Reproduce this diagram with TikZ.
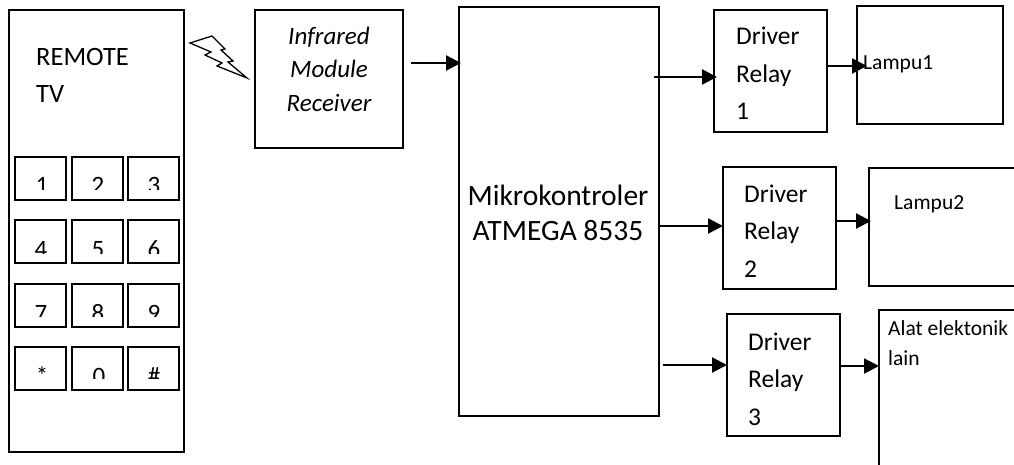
\documentclass[tikz,border=0pt]{standalone}
\usepackage{fontspec}
\setmainfont{Carlito}
\usetikzlibrary{arrows.meta}

\begin{document}
\begin{tikzpicture}[x=1pt, y=-1pt]
\tikzset{kotak/.style={draw, line width=1.6pt, inner sep=0pt, outer sep=0pt, anchor=north west},
  tombol/.style={kotak, minimum width=51pt, minimum height=43pt},
  driver/.style={kotak, minimum width=113pt, minimum height=122pt},
  teks/.style={anchor=base west, inner sep=0pt, font=\fontsize{25.5}{30}\selectfont},
  kecil/.style={teks, font=\fontsize{21.5}{26}\selectfont},
  angka/.style={anchor=base, inner sep=0pt, font=\fontsize{25}{30}\selectfont},
  tengah/.style={anchor=base, inner sep=0pt, font=\fontsize{25}{30}\itshape\selectfont},
  besar/.style={anchor=base, inner sep=0pt, font=\fontsize{29.5}{36}\selectfont},
  sinyal/.style={line width=2.2pt, -{Triangle[length=15pt, width=15pt]}}}
\useasboundingbox (0, 0) rectangle (1014, 465);
\clip (0, 0) rectangle (1014, 465);
% remote
\node[kotak, minimum width=175pt, minimum height=442pt] (remote) at (9, 10) {};
\node[teks, font=\fontsize{26.5}{30}\selectfont] (tremote) at (36, 66) {REMOTE};
\node[teks, font=\fontsize{26.5}{30}\selectfont] (ttv) at (36, 103) {TV};
\node[tombol] (K1) at (15, 157) {};
\node[tombol] (K2) at (72, 157) {};
\node[tombol] (K3) at (128, 157) {};
\node[tombol] (K4) at (15, 220) {};
\node[tombol] (K5) at (72, 220) {};
\node[tombol] (K6) at (128, 220) {};
\node[tombol] (K7) at (15, 284) {};
\node[tombol] (K8) at (72, 284) {};
\node[tombol] (K9) at (128, 284) {};
\node[tombol] (K10) at (15, 347) {};
\node[tombol] (K11) at (72, 347) {};
\node[tombol] (K12) at (128, 347) {};
\begin{scope}
\clip (10, 160) rectangle (180, 189.5) (10, 224) rectangle (180, 253) (10, 288) rectangle (180, 316) (10, 350) rectangle (180, 378);
\node[angka] (A1) at (42, 193.5) {1};
\node[angka] (A2) at (98, 193.5) {2};
\node[angka] (A3) at (154, 193.5) {3};
\node[angka] (A4) at (41, 257.5) {4};
\node[angka] (A5) at (98, 257.5) {5};
\node[angka] (A6) at (154, 257.5) {6};
\node[angka] (A7) at (41, 321) {7};
\node[angka] (A8) at (98, 321) {8};
\node[angka] (A9) at (154, 321) {9};
\node[angka] (A10) at (42, 384) {*};
\node[angka] (A11) at (99, 384) {0};
\node[angka] (A12) at (154, 384) {\#};
\end{scope}
% sinyal
\draw[line width=1.3pt, miter limit=10] (190, 43) -- (212, 36) -- (225, 49) -- (221, 50) -- (233, 61) -- (228, 62) -- (247, 78) -- (217, 66) -- (222, 63) -- (205, 55) -- (211, 52) -- cycle;
% receiver
\node[kotak, minimum width=148pt, minimum height=138pt] (infra) at (255, 10) {};
\node[tengah] (t1) at (329, 45) {Infrared};
\node[tengah] (t2) at (329, 78) {Module};
\node[tengah] (t3) at (329, 112) {Receiver};
% mikrokontroler
\node[kotak, minimum width=200pt, minimum height=409pt] (mcu) at (459, 7) {};
\node[besar] (t4) at (558, 205) {Mikrokontroler};
\node[besar] (t5) at (558, 240) {ATMEGA 8535};
% driver
\node[driver] (D1) at (714, 10) {};
\node[driver] (D2) at (723, 167) {};
\node[driver] (D3) at (727, 314) {};
\node[teks] (t6) at (736, 45) {Driver};
\node[teks] (t7) at (736, 83) {Relay};
\node[teks] (t8) at (736, 120) {1};
\node[teks] (t9) at (744, 202) {Driver};
\node[teks] (t10) at (744, 239) {Relay};
\node[teks] (t11) at (744, 277) {2};
\node[teks] (t12) at (748, 350) {Driver};
\node[teks] (t13) at (748, 387) {Relay};
\node[teks] (t14) at (748, 425) {3};
% beban
\node[kotak, minimum width=146pt, minimum height=118pt] (L1) at (857, 6) {};
\node[kotak, minimum width=146pt, minimum height=118pt] (L2) at (869, 168) {};
\node[kotak, minimum width=146pt, minimum height=180pt] (L3) at (879, 310) {};
\node[kecil] (t15) at (863, 70) {Lampu1};
\node[kecil] (t16) at (894, 210) {Lampu2};
\node[kecil] (t17) at (888, 335) {Alat elektonik};
\node[kecil] (t18) at (888, 365) {lain};
% panah
\coordinate (P0) at (411, 63);
\coordinate (P1) at (654, 77);
\coordinate (P2) at (659, 226);
\coordinate (P3) at (663, 365);
\coordinate (P4) at (826, 66);
\coordinate (P5) at (835, 221);
\coordinate (P6) at (839, 366);
\draw[sinyal] (P0) -- ([xshift=2pt]P0 -| mcu.west);
\draw[sinyal] (P1) -- ([xshift=3pt]P1 -| D1.west);
\draw[sinyal] (P2) -- (P2 -| D2.west);
\draw[sinyal] (P3) -- (P3 -| D3.west);
\draw[sinyal] (P4) -- ([xshift=10pt]P4 -| L1.west);
\draw[sinyal] (P5) -- ([xshift=2pt]P5 -| L2.west);
\draw[sinyal] (P6) -- (P6 -| L3.west);
\end{tikzpicture}
\end{document}
